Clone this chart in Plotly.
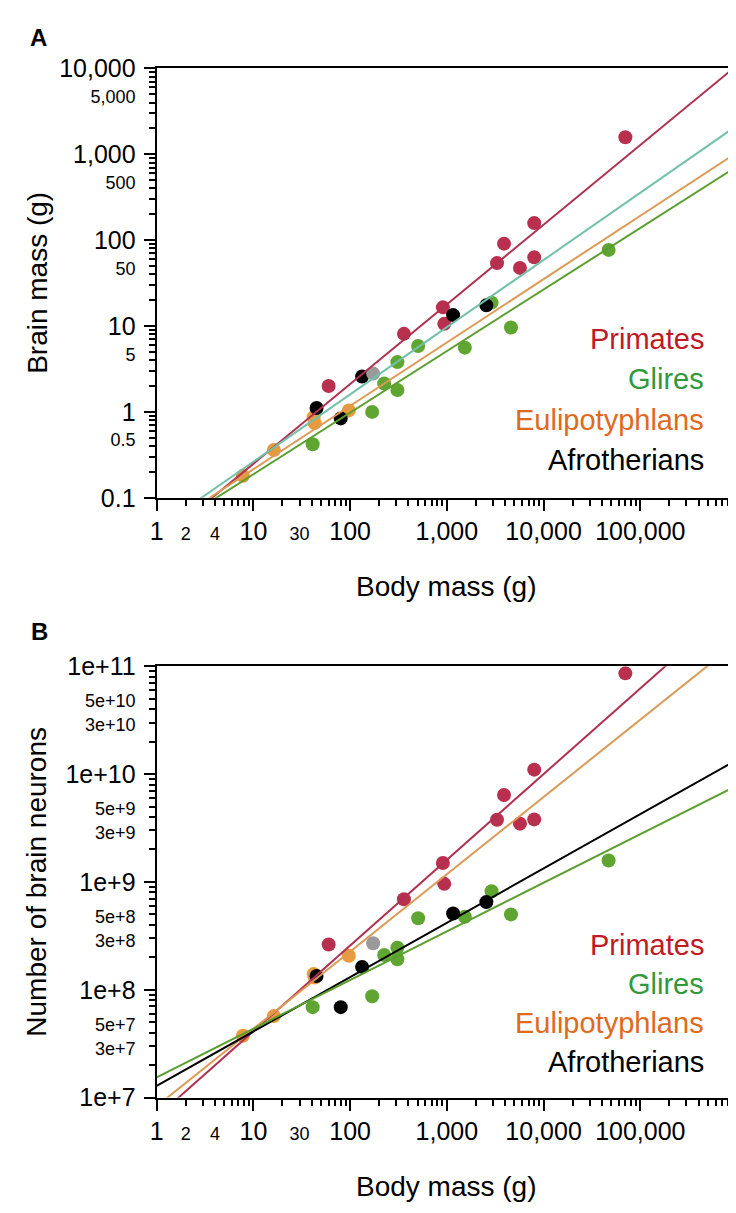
import plotly.graph_objects as go

# ---------- data ----------
# body mass (g) per species, shared by both panels
prim_body = [60, 360, 910, 940, 3300, 3900, 5700, 8000, 8000, 70000]
glir_body = [41, 169, 225, 308, 308, 505, 1535, 2900, 4600, 47000]
euli_body = [7.8, 16.3, 42, 43, 97]
afro_body = [45, 80, 133, 1160, 2560]
gray_body = [173]

# panel A - brain mass (g)
prim_brain = [2.0, 8.1, 16.5, 10.6, 54, 91, 47.5, 158, 63, 1580]
glir_brain = [0.42, 1.0, 2.14, 3.8, 1.8, 5.85, 5.6, 18.7, 9.6, 77]
euli_brain = [0.18, 0.36, 0.87, 0.74, 1.04]
afro_brain = [1.11, 0.84, 2.58, 13.4, 17.4]
gray_brain = [2.79]

# panel B - number of brain neurons
prim_neur = [2.63e8, 6.9e8, 1.5e9, 9.6e8, 3.77e9, 6.4e9, 3.47e9, 1.1e10, 3.8e9, 8.6e10]
glir_neur = [6.9e7, 8.7e7, 2.1e8, 2.45e8, 1.92e8, 4.6e8, 4.75e8, 8.2e8, 5.0e8, 1.58e9]
euli_neur = [3.75e7, 5.7e7, 1.4e8, 1.3e8, 2.07e8]
afro_neur = [1.34e8, 6.9e7, 1.63e8, 5.1e8, 6.5e8]
gray_neur = [2.7e8]

# fitted power laws, log10(y) = a + b*log10(x)
fitA_names = ["Primates", "Afrotherians", "Eulipotyphlans", "Glires"]
fitA_slope = [0.928, 0.783, 0.738, 0.717]
fitA_icpt = [-1.532, -1.363, -1.406, -1.443]
fitB_names = ["Primates", "Eulipotyphlans", "Afrotherians", "Glires"]
fitB_slope = [0.795, 0.717, 0.504, 0.451]
fitB_icpt = [6.82, 6.92, 7.109, 7.188]

# ---------- styles ----------
pt_col = {"Primates": "#b8304e", "Glires": "#5ea531", "Eulipotyphlans": "#e99a3b",
          "Afrotherians": "#000000", "gray": "#9a9a9a"}
ln_col = {"Primates": "#b03050", "Glires": "#5a9f2e", "Eulipotyphlans": "#dc9a55",
          "Afrotherians": "#000000"}
ln_colA = dict(ln_col, Afrotherians="#72c0aa")
txt_col = {"Primates": "#bf1a24", "Glires": "#2f9a3c", "Eulipotyphlans": "#e0691e",
           "Afrotherians": "#000000"}
FONT = "Liberation Sans, Arial, sans-serif"
W, H = 736, 1213
XL, XR = 143, 729
A_TOP, A_BOT = 47.5, 487
B_TOP, B_BOT = 659.5, 1101


def py(p):
    return 1 - p / H


fig = go.Figure()

groups = [("Primates", prim_body, prim_brain, prim_neur),
          ("Glires", glir_body, glir_brain, glir_neur),
          ("Eulipotyphlans", euli_body, euli_brain, euli_neur),
          ("Afrotherians", afro_body, afro_brain, afro_neur),
          ("gray", gray_body, gray_brain, gray_neur)]

for name, bx, ya, yb in groups:
    fig.add_trace(go.Scatter(x=bx, y=ya, mode="markers", xaxis="x", yaxis="y",
                             marker=dict(size=14, color=pt_col[name]), showlegend=False))
    fig.add_trace(go.Scatter(x=bx, y=yb, mode="markers", xaxis="x2", yaxis="y2",
                             marker=dict(size=14, color=pt_col[name]), showlegend=False))

xs = [1, 1e6]
for n, b, a in zip(fitA_names, fitA_slope, fitA_icpt):
    fig.add_trace(go.Scatter(x=xs, y=[10 ** (a + b * 0), 10 ** (a + b * 6)], mode="lines",
                             xaxis="x", yaxis="y", line=dict(color=ln_colA[n], width=2),
                             showlegend=False))
for n, b, a in zip(fitB_names, fitB_slope, fitB_icpt):
    fig.add_trace(go.Scatter(x=xs, y=[10 ** (a + b * 0), 10 ** (a + b * 6)], mode="lines",
                             xaxis="x2", yaxis="y2", line=dict(color=ln_col[n], width=2),
                             showlegend=False))


def small(t):
    return "<span style='font-size:18px'>" + t + "</span>"


# x ticks (both panels)
x_big = {1: "1", 10: "10", 100: "100", 1000: "1,000", 10000: "10,000", 100000: "100,000"}
x_small = {2: "2", 4: "4", 30: "30"}
x_vals, x_text = [], []
for d in range(6):
    for m in range(1, 10):
        v = m * 10 ** d
        x_vals.append(v)
        x_text.append(x_big.get(v, small(x_small[v]) if v in x_small else ""))
x_vals.append(10 ** 6)
x_text.append("")
x_dec = [10 ** d for d in range(7)]

yA_big = {0.1: "0.1", 1: "1", 10: "10", 100: "100", 1000: "1,000", 10000: "10,000"}
yA_small = {0.5: "0.5", 5: "5", 50: "50", 500: "500", 5000: "5,000"}
yA_vals, yA_text = [], []
for d in range(-1, 4):
    for m in range(1, 10):
        v = round(m * 10.0 ** d, 3)
        yA_vals.append(v)
        yA_text.append(yA_big.get(v, small(yA_small[v]) if v in yA_small else ""))
yA_vals.append(10000)
yA_text.append("10,000")
yA_dec = [0.1, 1, 10, 100, 1000, 10000]

yB_vals, yB_text = [], []
for d in range(7, 11):
    for m in range(1, 10):
        yB_vals.append(m * 10 ** d)
        if m == 1:
            yB_text.append("1e+%d" % d)
        elif m in (3, 5):
            yB_text.append(small("%de+%d" % (m, d)))
        else:
            yB_text.append("")
yB_vals.append(10 ** 11)
yB_text.append("1e+11")
yB_dec = [10 ** d for d in range(7, 12)]

xdom = [XL / W, XR / W]
base = dict(type="log", showgrid=False, zeroline=False, ticks="outside",
            tickwidth=1.5, tickcolor="black", ticklen=6,
            tickfont=dict(family=FONT, size=25, color="black"))
frame = dict(showline=True, linecolor="black", linewidth=2, mirror=True)
over = dict(type="log", showgrid=False, zeroline=False, ticks="outside", ticklen=12,
            tickwidth=1.5, tickcolor="black", showticklabels=False, showline=False)

fig.update_layout(
    width=W, height=H, plot_bgcolor="white", paper_bgcolor="white",
    margin=dict(l=0, r=0, t=0, b=0), showlegend=False,
    xaxis=dict(base, **frame, domain=xdom, anchor="y", range=[0, 6],
               tickvals=x_vals, ticktext=x_text, ticklabelstandoff=4),
    yaxis=dict(base, **frame, domain=[py(A_BOT), py(A_TOP)], anchor="x", range=[-1, 4],
               tickvals=yA_vals, ticktext=yA_text, ticklabelstandoff=8),
    xaxis2=dict(base, **frame, domain=xdom, anchor="y2", range=[0, 6],
                tickvals=x_vals, ticktext=x_text, ticklabelstandoff=4),
    yaxis2=dict(base, **frame, domain=[py(B_BOT), py(B_TOP)], anchor="x2", range=[7, 11],
                tickvals=yB_vals, ticktext=yB_text, ticklabelstandoff=8),
    xaxis3=dict(over, overlaying="x", anchor="y", range=[0, 6], tickvals=x_dec),
    yaxis3=dict(over, overlaying="y", anchor="x", range=[-1, 4], tickvals=yA_dec),
    xaxis4=dict(over, overlaying="x2", anchor="y2", range=[0, 6], tickvals=x_dec),
    yaxis4=dict(over, overlaying="y2", anchor="x2", range=[7, 11], tickvals=yB_dec),
)

# invisible traces so overlay axes get drawn
fig.add_trace(go.Scatter(x=[1], y=[1], xaxis="x3", yaxis="y3", mode="markers",
                         marker=dict(opacity=0), hoverinfo="skip", showlegend=False))
fig.add_trace(go.Scatter(x=[1], y=[1e8], xaxis="x4", yaxis="y4", mode="markers",
                         marker=dict(opacity=0), hoverinfo="skip", showlegend=False))

ann = []
# panel letters
ann.append(dict(text="<b>A</b>", x=24 / W, y=py(16)))
ann.append(dict(text="<b>B</b>", x=25 / W, y=py(624)))
for a in ann:
    a.update(xref="paper", yref="paper", showarrow=False, xanchor="center", yanchor="middle",
             font=dict(family=FONT, size=24, color="black"))

titles = [("Body mass (g)", (XL + XR) / 2, 578, 0),
          ("Body mass (g)", (XL + XR) / 2, 1192, 0),
          ("Brain mass (g)", 22, (A_TOP + A_BOT) / 2, -90),
          ("Number of brain neurons", 22, (B_TOP + B_BOT) / 2, -90)]
for t, x, y, rot in titles:
    ann.append(dict(text=t, x=x / W, y=py(y), xref="paper", yref="paper", showarrow=False,
                    xanchor="center", yanchor="middle", textangle=rot,
                    font=dict(family=FONT, size=28, color="black")))

leg_names = ["Primates", "Glires", "Eulipotyphlans", "Afrotherians"]
legA_y = [325, 365, 407, 448]
legB_y = [945, 985, 1025, 1065]
for n, ya, yb in zip(leg_names, legA_y, legB_y):
    for yy in (ya, yb):
        ann.append(dict(text=n, x=698 / W, y=py(yy), xref="paper", yref="paper",
                        showarrow=False, xanchor="right", yanchor="middle",
                        font=dict(family=FONT, size=29, color=txt_col[n])))

fig.update_layout(annotations=ann)
fig.write_html("out.html")
